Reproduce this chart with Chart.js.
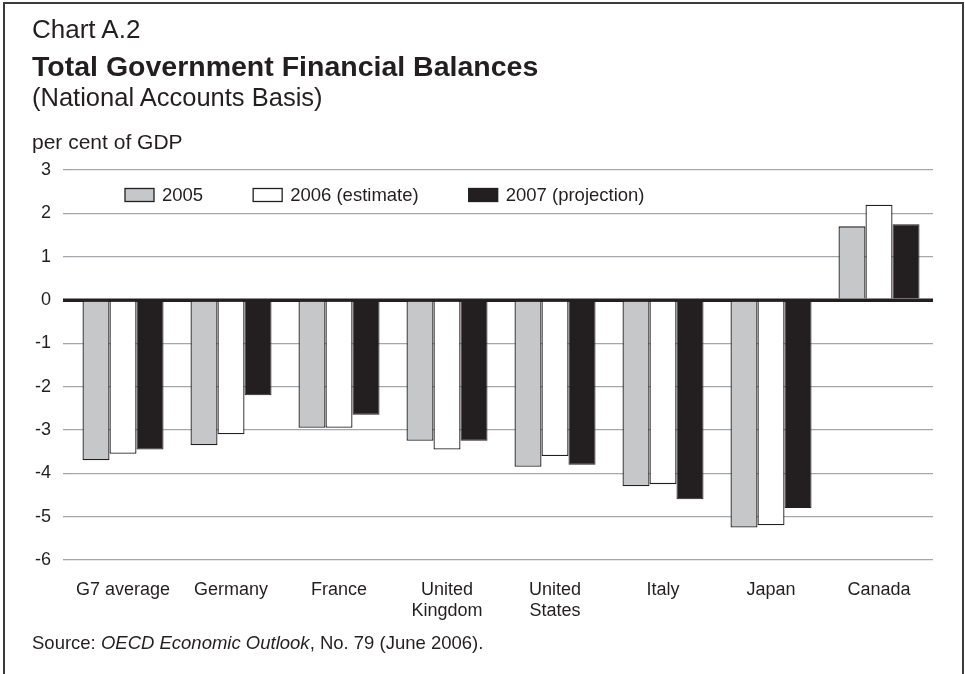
<!DOCTYPE html>
<html>
<head>
<meta charset="utf-8">
<title>Total Government Financial Balances</title>
<script src="https://cdn.jsdelivr.net/npm/chart.js@4.4.1/dist/chart.umd.min.js"></script>
<style>
  body { margin: 0; background: #fff; overflow: hidden; }
  #wrap { position: relative; width: 965px; height: 674px; }
  #frame {
    position: absolute; left: 3px; top: 2px; width: 961px; height: 700px;
    box-sizing: border-box; border: 2px solid #3c3a3b; border-bottom: none;
    pointer-events: none;
  }
  .txt {
    position: absolute; left: 32px; white-space: nowrap; line-height: 1;
    font-family: "Liberation Sans", Arial, Helvetica, sans-serif; color: #231f20;
  }
  #chartNo { top: 16px; font-size: 26px; }
  #mainTitle { top: 52px; font-size: 28.5px; font-weight: bold; }
  #subTitle { top: 85px; font-size: 25.5px; }
  #unit { top: 131px; font-size: 21px; }
  #source { top: 634px; font-size: 18.5px; }
  canvas { position: absolute; left: 0; top: 0; }
</style>
</head>
<body>
<div id="wrap">
  <canvas id="balanceChart" width="965" height="674"></canvas>
  <div class="txt" id="chartNo">Chart A.2</div>
  <div class="txt" id="mainTitle">Total Government Financial Balances</div>
  <div class="txt" id="subTitle">(National Accounts Basis)</div>
  <div class="txt" id="unit">per cent of GDP</div>
  <div class="txt" id="source">Source: <i>OECD Economic Outlook</i>, No. 79 (June 2006).</div>
  <div id="frame"></div>
</div>
<script>
const categories = ["G7 average", "Germany", "France", ["United", "Kingdom"], ["United", "States"], "Italy", "Japan", "Canada"];
const seriesNames = ["2005", "2006 (estimate)", "2007 (projection)"];
const balance2005 = [-3.7, -3.35, -2.95, -3.25, -3.85, -4.3, -5.25, 1.7];
const balance2006 = [-3.55, -3.1, -2.95, -3.45, -3.6, -4.25, -5.2, 2.2];
const balance2007 = [-3.45, -2.2, -2.65, -3.25, -3.8, -4.6, -4.8, 1.75];
const yMin = -6;
const yMax = 3;

const ink = "#231f20";
const gridGrey = "#a5a7aa";
const fontFamily = "'Liberation Sans', Arial, Helvetica, sans-serif";

// legend sits inside the plot, just under the top gridline
const insideLegend = {
  id: "insideLegend",
  afterDraw(chart) {
    const ctx = chart.ctx;
    const area = chart.chartArea;
    let x = area.left + 56;
    const yMid = area.top + 25;
    ctx.save();
    ctx.font = "18.5px " + fontFamily;
    ctx.textBaseline = "middle";
    ctx.textAlign = "left";
    chart.data.datasets.forEach(function (ds) {
      ctx.fillStyle = ds.backgroundColor;
      ctx.fillRect(x, yMid - 6.5, 29, 13);
      ctx.lineWidth = 1.3;
      ctx.strokeStyle = ink;
      ctx.strokeRect(x, yMid - 6.5, 29, 13);
      ctx.fillStyle = ink;
      ctx.fillText(ds.label, x + 37, yMid + 1);
      x += 37 + ctx.measureText(ds.label).width + 50;
    });
    ctx.restore();
  }
};

// heavy zero line drawn over the bar ends
const zeroLine = {
  id: "zeroLine",
  afterDatasetsDraw(chart) {
    const ctx = chart.ctx;
    const area = chart.chartArea;
    const y = chart.scales.y.getPixelForValue(0);
    ctx.save();
    ctx.strokeStyle = ink;
    ctx.lineWidth = 3;
    ctx.beginPath();
    ctx.moveTo(area.left - 6, y);
    ctx.lineTo(area.right, y);
    ctx.stroke();
    ctx.restore();
  }
};

const ctxBar = document.getElementById("balanceChart").getContext("2d");

const configBar = {
  type: "bar",
  data: {
    labels: categories,
    datasets: [
      { label: seriesNames[0], data: balance2005, backgroundColor: "#c6c7c9", borderColor: ink, borderWidth: 1.3 },
      { label: seriesNames[1], data: balance2006, backgroundColor: "#ffffff", borderColor: ink, borderWidth: 1.3 },
      { label: seriesNames[2], data: balance2007, backgroundColor: ink, borderColor: ink, borderWidth: 1 }
    ]
  },
  options: {
    responsive: false,
    animation: false,
    layout: { padding: { top: 170, right: 32, bottom: 0, left: 0 } },
    categoryPercentage: 0.75,
    barPercentage: 1,
    plugins: {
      legend: { display: false },
      tooltip: { enabled: false }
    },
    scales: {
      x: {
        grid: { display: false },
        border: { display: false },
        ticks: {
          color: ink,
          padding: 11.5,
          maxRotation: 0,
          autoSkip: false,
          font: { family: fontFamily, size: 18, lineHeight: 1.17 }
        },
        afterFit(scale) { scale.height = 114; }
      },
      y: {
        min: yMin,
        max: yMax,
        border: { display: false },
        grid: {
          color: function (c) { return c.tick && c.tick.value === 0 ? ink : gridGrey; },
          lineWidth: function (c) { return c.tick && c.tick.value === 0 ? 3 : 1.3; },
          tickColor: function (c) { return c.tick && c.tick.value === 0 ? ink : gridGrey; },
          tickWidth: function (c) { return c.tick && c.tick.value === 0 ? 3 : 1.3; },
          drawTicks: true,
          tickLength: 6
        },
        ticks: {
          stepSize: 1,
          color: ink,
          padding: 12,
          font: { family: fontFamily, size: 18 }
        },
        afterFit(scale) { scale.width = 69; }
      }
    }
  },
  plugins: [zeroLine, insideLegend]
};

const balanceChart = new Chart(ctxBar, configBar);
</script>
</body>
</html>
